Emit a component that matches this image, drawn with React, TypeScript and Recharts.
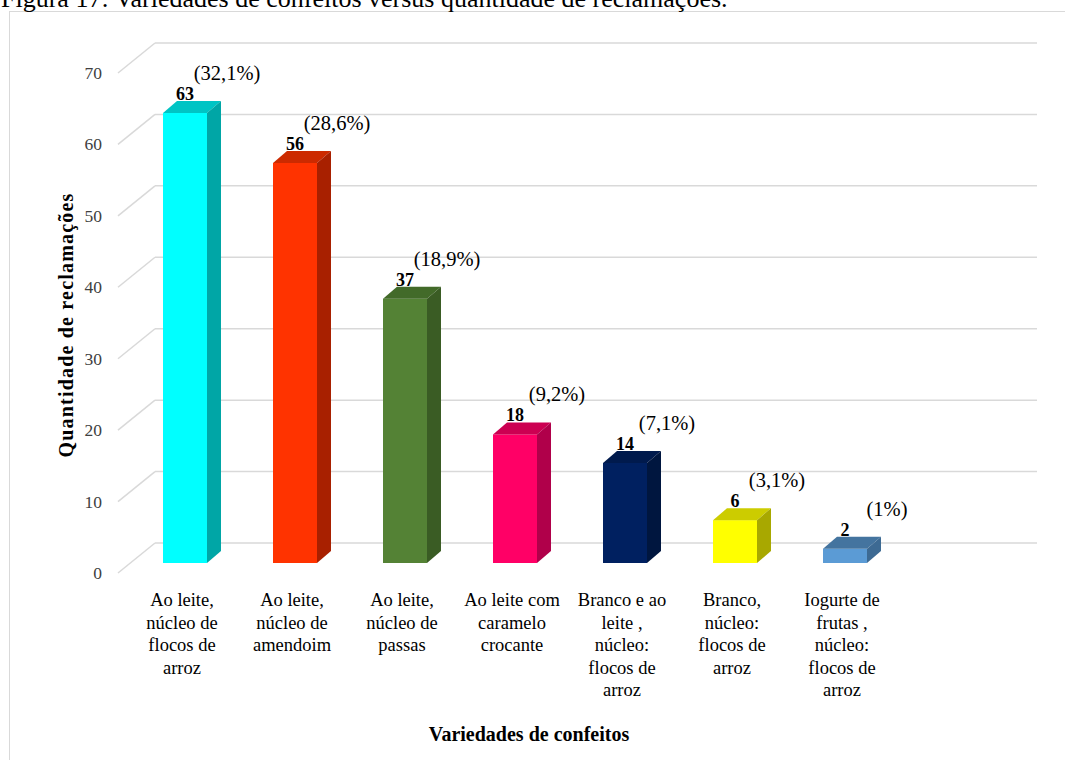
import React from 'react';
import { BarChart, Bar, XAxis, YAxis, CartesianGrid, LabelList } from 'recharts';

const categories = [
  'Ao leite,\nnúcleo de\nflocos de\narroz',
  'Ao leite,\nnúcleo de\namendoim',
  'Ao leite,\nnúcleo de\npassas',
  'Ao leite com\ncaramelo\ncrocante',
  'Branco e ao\nleite ,\nnúcleo:\nflocos de\narroz',
  'Branco,\nnúcleo:\nflocos de\narroz',
  'Iogurte de\nfrutas ,\nnúcleo:\nflocos de\narroz',
];
const complaints = [63, 56, 37, 18, 14, 6, 2];
const shares = ['(32,1%)', '(28,6%)', '(18,9%)', '(9,2%)', '(7,1%)', '(3,1%)', '(1%)'];
const yTicks = [0, 10, 20, 30, 40, 50, 60, 70];

const frontColors = ['#00ffff', '#ff3300', '#548235', '#ff0066', '#002060', '#ffff00', '#5b9bd5'];
const topColors = ['#00c4c4', '#cc2a00', '#426a29', '#cc0052', '#001a4d', '#cccc00', '#44749f'];
const sideColors = ['#00a6a6', '#a82000', '#3a5c24', '#b0004a', '#00163f', '#a8a800', '#3d6a93'];

const data = categories.map((name, i) => ({
  name,
  value: complaints[i],
  pct: shares[i],
}));

const SERIF = '"Liberation Serif", "Times New Roman", serif';
// depth of the fake 3D extrusion
const DX = 14;
const DY = 12;

function Bar3D(props: any) {
  const { x, y, width, height, index } = props;
  if (height <= 0) return null;
  return (
    <g>
      <rect x={x} y={y} width={width} height={height} fill={frontColors[index]} />
      <polygon
        points={`${x},${y} ${x + DX},${y - DY} ${x + width + DX},${y - DY} ${x + width},${y}`}
        fill={topColors[index]}
      />
      <polygon
        points={`${x + width},${y} ${x + width + DX},${y - DY} ${x + width + DX},${y + height - DY} ${x + width},${y + height}`}
        fill={sideColors[index]}
      />
    </g>
  );
}

// back-wall gridline plus the diagonal running to the front of the floor
function gridLine(props: any) {
  const { x1, x2, y1, index } = props;
  return (
    <g key={`grid-${index}`}>
      <line x1={x1 - 12} y1={y1 + 10} x2={x1 + 25} y2={y1 - 20} stroke="#d9d9d9" strokeWidth={1.5} />
      <line x1={x1 + 25} y1={y1 - 20} x2={x2 + 27} y2={y1 - 20} stroke="#d9d9d9" strokeWidth={1.5} />
    </g>
  );
}

function CategoryTick(props: any) {
  const { x, y, payload } = props;
  const lines = String(payload.value).split('\n');
  return (
    <text x={x - 3} y={y + 43} textAnchor="middle" fontFamily={SERIF} fontSize={18.5} fill="#000">
      {lines.map((ln, i) => (
        <tspan key={i} x={x - 3} dy={i === 0 ? 0 : 22.5}>
          {ln}
        </tspan>
      ))}
    </text>
  );
}

function ValueTick(props: any) {
  const { x, y, payload } = props;
  return (
    <text x={x - 28} y={y + 16} textAnchor="end" fontFamily={SERIF} fontSize={17.5} fill="#404040">
      {payload.value}
    </text>
  );
}

function CountLabel(props: any) {
  const { x, y, width, value } = props;
  return (
    <text x={x + width / 2} y={y - 13} textAnchor="middle" fontFamily={SERIF} fontWeight="bold" fontSize={18} fill="#000">
      {value}
    </text>
  );
}

function ShareLabel(props: any) {
  const { x, y, width, value } = props;
  return (
    <text x={x + width / 2 + 42} y={y - 33} textAnchor="middle" fontFamily={SERIF} fontSize={20.5} fill="#000">
      {value}
    </text>
  );
}

export default function App() {
  return (
    <div style={{ position: 'absolute', left: 0, top: 0, width: 1065, height: 760, overflow: 'hidden', background: '#fff' }}>
      <div
        style={{
          position: 'absolute',
          left: 9,
          top: 11,
          width: 1100,
          height: 800,
          border: '1.5px solid #d9d9d9',
        }}
      />
      <BarChart
        width={1065}
        height={760}
        data={data}
        margin={{ top: 63, right: 55, left: 70, bottom: 47 }}
        barCategoryGap="30%"
        style={{ position: 'absolute', left: 0, top: 0 }}
      >
        <CartesianGrid vertical={false} horizontal={gridLine} />
        <XAxis
          dataKey="name"
          interval={0}
          height={150}
          axisLine={false}
          tickLine={false}
          tickSize={0}
          tickMargin={0}
          padding={{ left: 0, right: 110 }}
          tick={<CategoryTick />}
        />
        <YAxis
          width={60}
          domain={[0, 70]}
          ticks={yTicks}
          axisLine={false}
          tickLine={false}
          tickSize={0}
          tickMargin={0}
          tick={<ValueTick />}
        />
        <Bar dataKey="value" shape={<Bar3D />} isAnimationActive={false}>
          <LabelList dataKey="value" content={<CountLabel />} />
          <LabelList dataKey="pct" content={<ShareLabel />} />
        </Bar>
      </BarChart>
      <svg width={1065} height={760} style={{ position: 'absolute', left: 0, top: 0, pointerEvents: 'none' }}>
        <text x={1} y={7} fontFamily={SERIF} fontSize={26} fill="#000">
          Figura 17: Variedades de confeitos versus quantidade de reclamações.
        </text>
        <text
          x={0}
          y={0}
          transform="translate(73 325) rotate(-90)"
          textAnchor="middle"
          fontFamily={SERIF}
          fontWeight="bold"
          fontSize={20}
          letterSpacing={1.2}
          fill="#000"
        >
          Quantidade de reclamações
        </text>
        <text x={529} y={741} textAnchor="middle" fontFamily={SERIF} fontWeight="bold" fontSize={20} fill="#000">
          Variedades de confeitos
        </text>
      </svg>
    </div>
  );
}
